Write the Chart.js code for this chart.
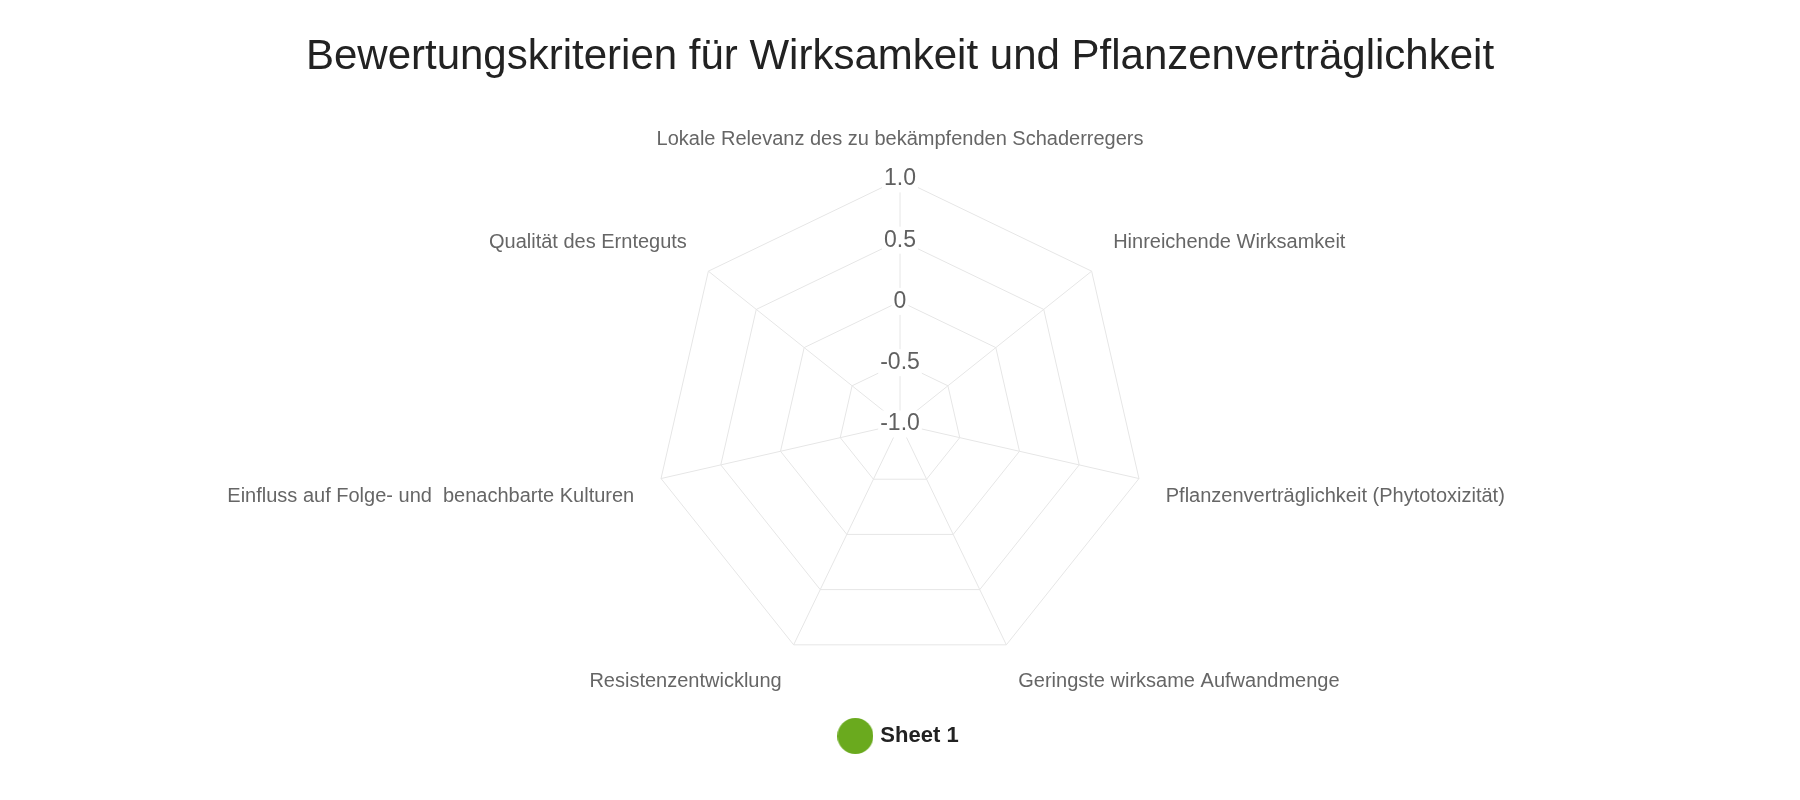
<!DOCTYPE html>
<html lang="de">
<head>
    <meta charset="UTF-8">
    <title>Bewertungskriterien</title>
    <script src="https://cdn.jsdelivr.net/npm/chart.js"></script>
    <style>
        body {
            margin: 0;
            background-color: #ffffff;
        }
        canvas {
            display: block;
        }
    </style>
</head>
<body>
    <canvas id="radarChart" width="1800" height="800"></canvas>

    <script>
        // Chart data
        const criteria = [
            'Lokale Relevanz des zu bekämpfenden Schaderregers',
            'Hinreichende Wirksamkeit',
            'Pflanzenverträglichkeit (Phytotoxizität)',
            'Geringste wirksame Aufwandmenge',
            'Resistenzentwicklung',
            'Einfluss auf Folge- und  benachbarte Kulturen',
            'Qualität des Ernteguts'
        ];
        // the series has no plotted values in the original
        const sheet1Values = [null, null, null, null, null, null, null];
        const tickLabels = ['-1.0', '-0.5', '0', '0.5', '1.0'];

        const green = '#6aaa1e';

        // round legend marker
        const dot = document.createElement('canvas');
        dot.width = 36;
        dot.height = 36;
        const dctx = dot.getContext('2d');
        dctx.fillStyle = green;
        dctx.beginPath();
        dctx.arc(18, 18, 18, 0, Math.PI * 2);
        dctx.fill();

        Chart.defaults.font.family = "'Liberation Sans', Arial, Helvetica, sans-serif";

        const ctx = document.getElementById('radarChart').getContext('2d');
        new Chart(ctx, {
            type: 'radar',
            data: {
                labels: criteria,
                datasets: [{
                    label: 'Sheet 1',
                    data: sheet1Values,
                    borderColor: green,
                    backgroundColor: green,
                    pointStyle: dot
                }]
            },
            options: {
                responsive: false,
                animation: false,
                layout: {
                    padding: { top: 0, bottom: 43, left: 0, right: 0 }
                },
                plugins: {
                    title: {
                        display: true,
                        text: 'Bewertungskriterien für Wirksamkeit und Pflanzenverträglichkeit',
                        color: '#222222',
                        font: { size: 42, weight: 'normal' },
                        padding: { top: 32, bottom: 31 }
                    },
                    legend: {
                        position: 'bottom',
                        labels: {
                            usePointStyle: true,
                            pointStyle: dot,
                            pointStyleWidth: 28,
                            color: '#222222',
                            padding: 18,
                            font: { size: 22, weight: 'bold' }
                        }
                    },
                    tooltip: { enabled: false }
                },
                scales: {
                    r: {
                        min: -1,
                        max: 1,
                        ticks: {
                            stepSize: 0.5,
                            color: '#606060',
                            font: { size: 23 },
                            showLabelBackdrop: true,
                            backdropColor: '#ffffff',
                            backdropPadding: 2,
                            callback: (value, index) => tickLabels[index]
                        },
                        grid: { color: '#e6e6e6', lineWidth: 1 },
                        angleLines: { color: '#e6e6e6', lineWidth: 1 },
                        pointLabels: {
                            color: '#666666',
                            padding: 14,
                            font: { size: 20 }
                        }
                    }
                }
            }
        });
    </script>
</body>
</html>
